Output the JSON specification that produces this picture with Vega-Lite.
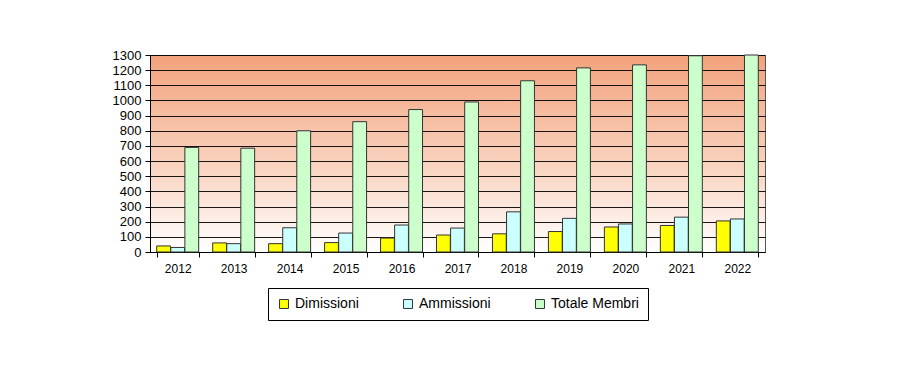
{
  "$schema": "https://vega.github.io/schema/vega-lite/v6.json",
  "width": 615,
  "height": 197,
  "padding": {"left": 112, "top": 49, "right": 20, "bottom": 10},
  "background": "white",
  "config": {
    "font": "Liberation Sans",
    "legend": {"layout": {"anchor": "middle"}},
    "view": {
      "stroke": "#555555",
      "fill": {"gradient": "linear", "x1": 0, "y1": 0, "x2": 0, "y2": 1, "stops": [{"offset": 0, "color": "#F2A27C"}, {"offset": 0.55, "color": "#F9D2BE"}, {"offset": 1, "color": "#FFFFFF"}]}
    }
  },
  "data": {
    "values": [
      {"anno": "2012", "serie": "Dimissioni", "valore": 40},
      {"anno": "2012", "serie": "Ammissioni", "valore": 30},
      {"anno": "2012", "serie": "Totale Membri", "valore": 690},
      {"anno": "2013", "serie": "Dimissioni", "valore": 60},
      {"anno": "2013", "serie": "Ammissioni", "valore": 55},
      {"anno": "2013", "serie": "Totale Membri", "valore": 685},
      {"anno": "2014", "serie": "Dimissioni", "valore": 55},
      {"anno": "2014", "serie": "Ammissioni", "valore": 160},
      {"anno": "2014", "serie": "Totale Membri", "valore": 800},
      {"anno": "2015", "serie": "Dimissioni", "valore": 62},
      {"anno": "2015", "serie": "Ammissioni", "valore": 125},
      {"anno": "2015", "serie": "Totale Membri", "valore": 860},
      {"anno": "2016", "serie": "Dimissioni", "valore": 92},
      {"anno": "2016", "serie": "Ammissioni", "valore": 178},
      {"anno": "2016", "serie": "Totale Membri", "valore": 940},
      {"anno": "2017", "serie": "Dimissioni", "valore": 112},
      {"anno": "2017", "serie": "Ammissioni", "valore": 158},
      {"anno": "2017", "serie": "Totale Membri", "valore": 990},
      {"anno": "2018", "serie": "Dimissioni", "valore": 120},
      {"anno": "2018", "serie": "Ammissioni", "valore": 265},
      {"anno": "2018", "serie": "Totale Membri", "valore": 1130},
      {"anno": "2019", "serie": "Dimissioni", "valore": 135},
      {"anno": "2019", "serie": "Ammissioni", "valore": 222},
      {"anno": "2019", "serie": "Totale Membri", "valore": 1215},
      {"anno": "2020", "serie": "Dimissioni", "valore": 165},
      {"anno": "2020", "serie": "Ammissioni", "valore": 185},
      {"anno": "2020", "serie": "Totale Membri", "valore": 1235},
      {"anno": "2021", "serie": "Dimissioni", "valore": 175},
      {"anno": "2021", "serie": "Ammissioni", "valore": 230},
      {"anno": "2021", "serie": "Totale Membri", "valore": 1295},
      {"anno": "2022", "serie": "Dimissioni", "valore": 205},
      {"anno": "2022", "serie": "Ammissioni", "valore": 218},
      {"anno": "2022", "serie": "Totale Membri", "valore": 1305}
    ]
  },
  "mark": {"type": "bar", "stroke": "#333333", "strokeWidth": 1},
  "encoding": {
    "x": {
      "field": "anno", "type": "nominal", "title": null,
      "scale": {"paddingInner": 0.25, "paddingOuter": 0.12},
      "axis": {"labelAngle": 0, "labelFontSize": 12, "labelColor": "#000000", "tickBand": "extent", "domainColor": "#000000", "tickColor": "#000000", "labelPadding": 6}
    },
    "xOffset": {"field": "serie", "type": "nominal", "sort": ["Dimissioni", "Ammissioni", "Totale Membri"], "scale": {"paddingInner": 0.02}},
    "y": {
      "field": "valore", "type": "quantitative", "title": null,
      "scale": {"domain": [0, 1300], "clamp": true},
      "axis": {"values": [0,100,200,300,400,500,600,700,800,900,1000,1100,1200,1300], "format": "d", "labelFontSize": 13, "labelColor": "#000000", "gridColor": "#000000", "gridOpacity": 0.9, "domainColor": "#000000", "tickColor": "#000000", "labelPadding": 4}
    },
    "color": {
      "field": "serie", "type": "nominal", "sort": ["Dimissioni", "Ammissioni", "Totale Membri"],
      "scale": {"domain": ["Dimissioni", "Ammissioni", "Totale Membri"], "range": ["#FFFF00", "#CCFFFF", "#CCFFCC"]},
      "legend": {"title": null, "orient": "bottom", "direction": "horizontal", "symbolType": "square", "symbolStrokeColor": "#333333", "symbolStrokeWidth": 1, "symbolSize": 80, "labelFontSize": 14, "labelColor": "#000000", "strokeColor": "#000000", "padding": 9, "columnPadding": 42, "offset": 14}
    }
  }
}
